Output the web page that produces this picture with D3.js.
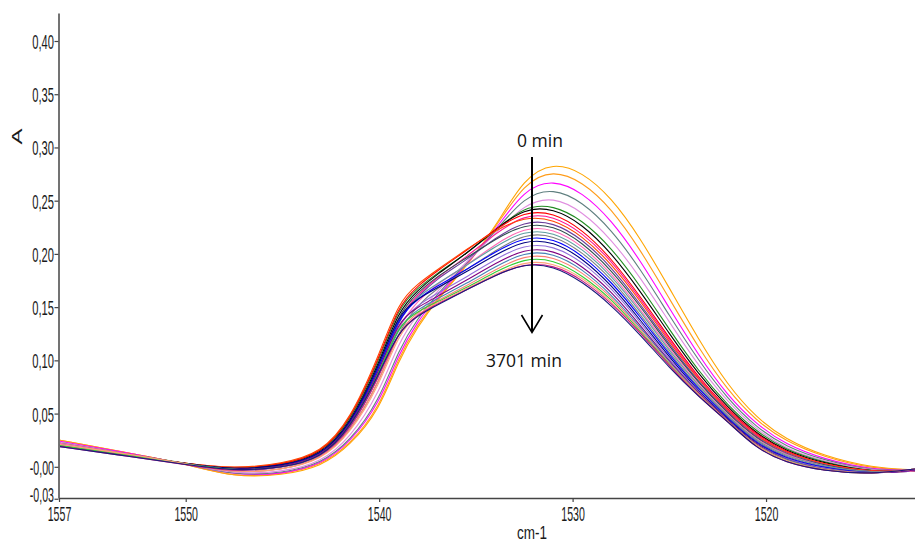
<!DOCTYPE html>
<html><head><meta charset="utf-8">
<script src="https://cdn.jsdelivr.net/npm/d3@7"></script>
<style>html,body{margin:0;padding:0;background:#fff;} svg{display:block}</style>
</head><body><svg id="c" width="915" height="541"></svg>
<script>
// Wavenumber grid (cm-1) at which each spectrum is sampled
const wavenumbers = [1556.5, 1553, 1550, 1547.5, 1545, 1543, 1541.5, 1540, 1539, 1538, 1537, 1535.5, 1534, 1532.5, 1531, 1529.5, 1528, 1526.5, 1525, 1523.5, 1522, 1520.5, 1519, 1517, 1514.5, 1512.3];

// Absorbance spectra, 0 min (top) ... 3701 min (bottom)
const s00 = [0.025, 0.013, 0.003, -0.010, -0.008, 0.000, 0.020, 0.053, 0.100, 0.132, 0.157, 0.188, 0.225, 0.272, 0.286, 0.277, 0.253, 0.215, 0.168, 0.120, 0.077, 0.046, 0.026, 0.010, -0.001, -0.003];
const s01 = [0.025, 0.013, 0.003, -0.010, -0.007, 0.001, 0.021, 0.055, 0.103, 0.134, 0.158, 0.189, 0.224, 0.267, 0.279, 0.268, 0.243, 0.204, 0.158, 0.112, 0.072, 0.043, 0.024, 0.009, -0.002, -0.003];
const s02 = [0.024, 0.013, 0.003, -0.008, -0.007, 0.002, 0.023, 0.059, 0.106, 0.137, 0.160, 0.190, 0.222, 0.261, 0.270, 0.258, 0.232, 0.194, 0.149, 0.105, 0.067, 0.040, 0.021, 0.007, -0.003, -0.003];
const s03 = [0.023, 0.012, 0.003, -0.008, -0.006, 0.003, 0.024, 0.062, 0.110, 0.140, 0.162, 0.191, 0.221, 0.254, 0.262, 0.249, 0.223, 0.186, 0.142, 0.100, 0.064, 0.037, 0.019, 0.006, -0.004, -0.003];
const s04 = [0.023, 0.012, 0.003, -0.007, -0.005, 0.004, 0.027, 0.069, 0.117, 0.144, 0.165, 0.192, 0.219, 0.247, 0.254, 0.240, 0.214, 0.178, 0.136, 0.095, 0.061, 0.035, 0.017, 0.005, -0.004, -0.004];
const s05 = [0.022, 0.012, 0.003, -0.003, 0.002, 0.012, 0.042, 0.100, 0.150, 0.168, 0.182, 0.200, 0.222, 0.245, 0.246, 0.232, 0.206, 0.170, 0.129, 0.090, 0.058, 0.033, 0.016, 0.004, -0.005, -0.004];
const s06 = [0.021, 0.011, 0.003, -0.003, 0.001, 0.011, 0.040, 0.097, 0.147, 0.166, 0.181, 0.200, 0.223, 0.243, 0.243, 0.228, 0.201, 0.165, 0.125, 0.087, 0.056, 0.031, 0.015, 0.003, -0.005, -0.004];
const s07 = [0.021, 0.011, 0.003, -0.002, 0.002, 0.012, 0.043, 0.102, 0.152, 0.170, 0.184, 0.203, 0.223, 0.240, 0.239, 0.223, 0.196, 0.160, 0.121, 0.084, 0.054, 0.030, 0.014, 0.002, -0.005, -0.004];
const s08 = [0.020, 0.011, 0.003, -0.004, 0.000, 0.010, 0.038, 0.092, 0.141, 0.162, 0.178, 0.197, 0.219, 0.237, 0.236, 0.220, 0.194, 0.158, 0.119, 0.083, 0.053, 0.029, 0.013, 0.002, -0.005, -0.004];
const s09 = [0.020, 0.011, 0.003, -0.002, 0.003, 0.013, 0.044, 0.105, 0.155, 0.172, 0.185, 0.204, 0.222, 0.235, 0.233, 0.217, 0.191, 0.156, 0.117, 0.082, 0.052, 0.028, 0.013, 0.002, -0.005, -0.004];
const s10 = [0.021, 0.011, 0.003, -0.004, 0.000, 0.009, 0.037, 0.089, 0.139, 0.160, 0.177, 0.194, 0.215, 0.231, 0.230, 0.214, 0.188, 0.153, 0.115, 0.080, 0.051, 0.027, 0.012, 0.001, -0.006, -0.004];
const s11 = [0.021, 0.011, 0.003, -0.003, 0.001, 0.010, 0.039, 0.095, 0.144, 0.164, 0.179, 0.196, 0.214, 0.228, 0.227, 0.211, 0.185, 0.151, 0.113, 0.079, 0.050, 0.026, 0.011, 0.001, -0.006, -0.004];
const s12 = [0.022, 0.012, 0.003, -0.005, -0.001, 0.008, 0.034, 0.084, 0.133, 0.156, 0.172, 0.189, 0.209, 0.225, 0.224, 0.208, 0.182, 0.148, 0.111, 0.077, 0.049, 0.025, 0.011, 0.000, -0.006, -0.004];
const s13 = [0.021, 0.011, 0.003, -0.004, 0.000, 0.010, 0.038, 0.092, 0.141, 0.160, 0.172, 0.189, 0.207, 0.222, 0.221, 0.205, 0.180, 0.146, 0.109, 0.076, 0.048, 0.024, 0.010, 0.000, -0.006, -0.003];
const s14 = [0.020, 0.011, 0.003, -0.006, -0.003, 0.007, 0.032, 0.079, 0.128, 0.152, 0.168, 0.185, 0.203, 0.219, 0.218, 0.202, 0.177, 0.143, 0.107, 0.074, 0.047, 0.023, 0.009, -0.001, -0.006, -0.003];
const s15 = [0.020, 0.011, 0.003, -0.004, 0.000, 0.010, 0.038, 0.092, 0.141, 0.158, 0.170, 0.185, 0.202, 0.216, 0.215, 0.199, 0.174, 0.141, 0.105, 0.073, 0.046, 0.022, 0.008, -0.001, -0.007, -0.003];
const s16 = [0.020, 0.011, 0.003, -0.003, 0.001, 0.010, 0.039, 0.095, 0.144, 0.158, 0.168, 0.183, 0.199, 0.213, 0.212, 0.196, 0.171, 0.138, 0.103, 0.071, 0.045, 0.021, 0.007, -0.002, -0.007, -0.003];
const s17 = [0.021, 0.011, 0.003, -0.004, -0.001, 0.008, 0.036, 0.087, 0.136, 0.152, 0.163, 0.178, 0.195, 0.209, 0.208, 0.193, 0.168, 0.136, 0.101, 0.070, 0.044, 0.020, 0.007, -0.002, -0.007, -0.003];
const s18 = [0.020, 0.011, 0.003, -0.004, 0.000, 0.009, 0.037, 0.089, 0.138, 0.150, 0.160, 0.175, 0.191, 0.205, 0.204, 0.189, 0.165, 0.133, 0.099, 0.069, 0.044, 0.020, 0.006, -0.003, -0.007, -0.003];
const s19 = [0.021, 0.011, 0.003, -0.005, -0.001, 0.008, 0.034, 0.084, 0.133, 0.148, 0.158, 0.172, 0.188, 0.202, 0.201, 0.186, 0.162, 0.131, 0.098, 0.068, 0.043, 0.019, 0.006, -0.003, -0.007, -0.002];
const s20 = [0.021, 0.012, 0.003, -0.006, -0.003, 0.007, 0.032, 0.079, 0.128, 0.146, 0.156, 0.170, 0.185, 0.199, 0.198, 0.183, 0.160, 0.129, 0.097, 0.068, 0.043, 0.019, 0.005, -0.003, -0.007, -0.002];
const s21 = [0.020, 0.011, 0.003, -0.004, -0.001, 0.008, 0.036, 0.087, 0.134, 0.146, 0.155, 0.168, 0.183, 0.196, 0.195, 0.180, 0.158, 0.127, 0.096, 0.067, 0.043, 0.018, 0.005, -0.004, -0.007, -0.002];
const s22 = [0.021, 0.012, 0.003, -0.006, -0.003, 0.006, 0.031, 0.076, 0.125, 0.144, 0.154, 0.167, 0.181, 0.193, 0.192, 0.178, 0.156, 0.126, 0.095, 0.067, 0.043, 0.018, 0.005, -0.004, -0.007, -0.002];
const s23 = [0.019, 0.010, 0.002, -0.005, -0.001, 0.008, 0.034, 0.084, 0.128, 0.143, 0.153, 0.166, 0.180, 0.191, 0.190, 0.176, 0.154, 0.126, 0.095, 0.066, 0.043, 0.017, 0.004, -0.004, -0.007, -0.002];
const s24 = [0.019, 0.010, 0.002, -0.004, -0.001, 0.008, 0.036, 0.087, 0.128, 0.142, 0.152, 0.166, 0.180, 0.191, 0.189, 0.174, 0.152, 0.124, 0.093, 0.066, 0.043, 0.017, 0.004, -0.004, -0.007, -0.002];

const seriesColors = ["#ffa500", "#ff9c1a", "#ff00ff", "#5f7f7f", "#e08ee0", "#228b22", "#000000", "#ff0000", "#ff1493", "#ff4500", "#6a3d9a", "#2f4f4f", "#ff69b4", "#5f9ea0", "#808080", "#0000ff", "#000080", "#9370db", "#800080", "#4682b4", "#fa8072", "#32cd32", "#ffa07a", "#c71585", "#1a1a7a"];

const yTickValues = [0.40, 0.35, 0.30, 0.25, 0.20, 0.15, 0.10, 0.05, 0.00, -0.03];
const yTickLabels = ["0,40", "0,35", "0,30", "0,25", "0,20", "0,15", "0,10", "0,05", "-0,00", "-0,03"];
const xTickValues = [1556.55, 1550, 1540, 1530, 1520];
const xTickLabels = ["1557", "1550", "1540", "1530", "1520"];
const xTitle = "cm-1";
const yTitle = "A";
const annotTop = "0 min";
const annotBottom = "3701 min";

const series = [s00, s01, s02, s03, s04, s05, s06, s07, s08, s09, s10, s11, s12, s13, s14, s15, s16, s17, s18, s19, s20, s21, s22, s23, s24];

const svg = d3.select("#c");
const x = d3.scaleLinear().domain([1556.55, 1512.3]).range([59, 915]);
const y = d3.scaleLinear().domain([-0.0293, 0.4263]).range([498, 13]);

const tickFont = "'Liberation Sans Narrow', 'Arial Narrow', 'Liberation Sans', sans-serif";
function labelLen(s) {
  let L = 0;
  for (const ch of s) L += (ch === ",") ? 4 : (ch === "-") ? 2.5 : 5.9;
  return L;
}

svg.append("defs").append("clipPath").attr("id", "plot")
  .append("rect").attr("x", 59).attr("y", 13).attr("width", 856).attr("height", 485);

const line = d3.line()
  .x((d, i) => x(wavenumbers[i]))
  .y(d => y(d))
  .curve(d3.curveBasis);

svg.append("g").attr("clip-path", "url(#plot)")
  .selectAll("path").data(series).join("path")
  .attr("d", line)
  .attr("fill", "none")
  .attr("stroke", (d, i) => seriesColors[i])
  .attr("stroke-width", 1.1);

// axes
const yAxis = d3.axisLeft(y).tickValues(yTickValues)
  .tickFormat((d, i) => yTickLabels[i]).tickSize(4).tickSizeOuter(0);
const gy = svg.append("g").attr("transform", "translate(58.5,0)").call(yAxis);
gy.select(".domain").attr("stroke", "#444").attr("stroke-width", 1.5);
gy.selectAll(".tick line").attr("stroke", "#444").attr("stroke-width", 1.2);
gy.selectAll(".tick text")
  .attr("x", -4.5).attr("dy", null)
  .attr("y", d => d < -0.01 ? 2.5 : 7.5)
  .style("font-family", tickFont).style("font-size", "21px").attr("fill", "#1a1a1a")
  .attr("textLength", d => labelLen(yTickLabels[yTickValues.indexOf(d)]))
  .attr("lengthAdjust", "spacingAndGlyphs");

const xAxis = d3.axisBottom(x).tickValues(xTickValues)
  .tickFormat((d, i) => xTickLabels[i]).tickSize(4).tickSizeOuter(0);
const gx = svg.append("g").attr("transform", "translate(0,498)").call(xAxis);
gx.select(".domain").attr("stroke", "#444").attr("stroke-width", 1.5);
gx.selectAll(".tick line").attr("stroke", "#444").attr("stroke-width", 1.2);
gx.selectAll(".tick text")
  .attr("dy", null).attr("y", 23)
  .style("font-family", tickFont).style("font-size", "21px").attr("fill", "#1a1a1a")
  .attr("textLength", d => labelLen(xTickLabels[xTickValues.indexOf(d)]))
  .attr("lengthAdjust", "spacingAndGlyphs");

// axis titles
svg.append("text").attr("x", 532).attr("y", 538.5).attr("text-anchor", "middle")
  .style("font-family", tickFont).style("font-size", "19px").attr("fill", "#1a1a1a")
  .attr("textLength", 30).attr("lengthAdjust", "spacingAndGlyphs")
  .text(xTitle);
svg.append("text").attr("transform", "translate(21.5,136.5) rotate(-90)")
  .attr("text-anchor", "middle")
  .style("font-family", "'Liberation Sans', Arial, sans-serif").style("font-size", "14px").attr("fill", "#1a1a1a")
  .attr("textLength", 16).attr("lengthAdjust", "spacingAndGlyphs")
  .text(yTitle);

// annotation arrow
const annFont = "'Open Sans', 'Noto Sans', sans-serif";
svg.append("text").attr("x", 540).attr("y", 146.5).attr("text-anchor", "middle")
  .style("font-family", annFont).style("font-size", "17.5px").attr("fill", "#111").text(annotTop);
svg.append("text").attr("x", 524).attr("y", 366.5).attr("text-anchor", "middle")
  .style("font-family", annFont).style("font-size", "17.5px").attr("fill", "#111").text(annotBottom);
svg.append("line").attr("x1", 532).attr("x2", 532).attr("y1", 157).attr("y2", 332)
  .attr("stroke", "#000").attr("stroke-width", 2);
svg.append("path").attr("d", "M521.5,315 L532,332.5 L542.5,315")
  .attr("fill", "none").attr("stroke", "#000").attr("stroke-width", 1.6);
</script>
</body></html>
